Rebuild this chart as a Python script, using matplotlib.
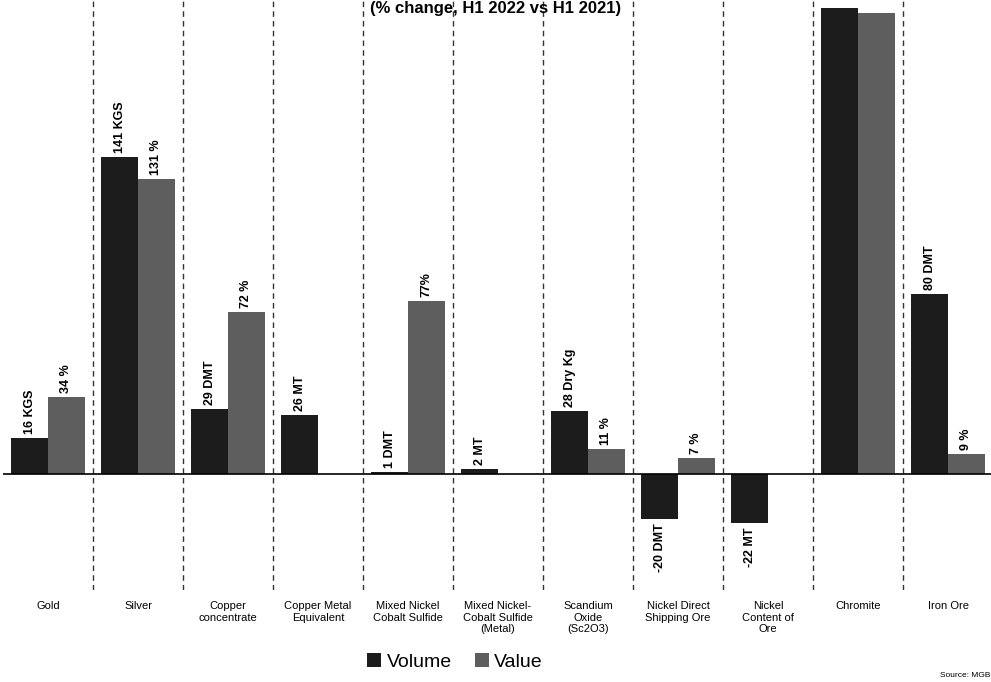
#Bar chart: mineral production volume and value, H1 2022 vs H1 2021
import numpy as np
import matplotlib.pyplot as plt

plt.rcParams['font.family'] = ['Liberation Sans', 'DejaVu Sans']

#Chart data
categories = ["Gold", "Silver", "Copper\nconcentrate", "Copper Metal\nEquivalent",
              "Mixed Nickel\nCobalt Sulfide", "Mixed Nickel-\nCobalt Sulfide\n(Metal)",
              "Scandium\nOxide\n(Sc2O3)", "Nickel Direct\nShipping Ore",
              "Nickel\nContent of\nOre", "Chromite", "Iron Ore"]
volume = [16, 141, 29, 26, 1, 2, 28, -20, -22, 207, 80]
volume_labels = ["16 KGS", "141 KGS", "29 DMT", "26 MT", "1 DMT", "2 MT",
                 "28 Dry Kg", "-20 DMT", "-22 MT", "", "80 DMT"]
value = [34, 131, 72, np.nan, 77, np.nan, 11, 7, np.nan, 205, 9]
value_labels = ["34 %", "131 %", "72 %", "", "77%", "", "11 %", "7 %", "", "", "9 %"]

#Figure setup
fig = plt.figure(figsize=(9.91, 6.82), dpi=100)
ax = fig.add_axes([3/991, 92/682, 990/991, 590/682])

x = np.arange(len(categories))
w = 0.41

b1 = ax.bar(x - w/2, volume, w, color="#1c1c1c", label="Volume")
b2 = ax.bar(x + w/2, value, w, color="#5e5e5e", label="Value")

#Bar labels (rotated)
def put_labels(bars, labels):
    for bar, lab in zip(bars, labels):
        h = bar.get_height()
        if lab == "" or np.isnan(h):
            continue
        cx = bar.get_x() + bar.get_width()/2
        if h >= 0:
            ax.annotate(lab, (cx, h), xytext=(0, 3), textcoords="offset points",
                        rotation=90, ha="center", va="bottom", fontsize=9,
                        fontweight="bold")
        else:
            ax.annotate(lab, (cx, h), xytext=(0, -3), textcoords="offset points",
                        rotation=90, ha="center", va="top", fontsize=9,
                        fontweight="bold")

put_labels(b1, volume_labels)
put_labels(b2, value_labels)

#Separators and zero line
for xs in x[:-1] + 0.5:
    ax.axvline(xs, color="#333333", lw=1, ls=(0, (4, 3)))
ax.axhline(0, color="black", lw=1.2)

ax.set_xlim(-0.5, len(categories) - 0.5)
ax.set_ylim(-51.6, 210.7)
ax.set_yticks([])
ax.set_xticks(x)
ax.set_xticklabels(categories, fontsize=8)
ax.tick_params(axis="x", length=0, pad=8)
for s in ax.spines.values():
    s.set_visible(False)

#Title
fig.text(0.5, 1 - 1/682, "(% change, H1 2022 vs H1 2021)", ha="center",
         va="top", fontsize=12, fontweight="bold")

fig.legend(handles=[b1, b2], loc="center", bbox_to_anchor=(455/991, 1 - 662/682),
           ncol=2, frameon=False, fontsize=14, handlelength=0.7, handleheight=0.7,
           columnspacing=1.2, handletextpad=0.3)
fig.text(0.999, 0.005, "Source: MGB", ha="right", va="bottom", fontsize=6)

plt.savefig("out.png", dpi=100)
